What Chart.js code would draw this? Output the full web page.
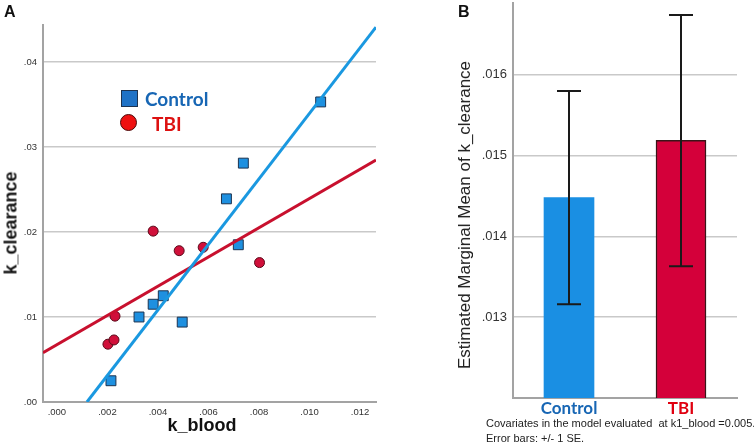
<!DOCTYPE html>
<html>
<head>
<meta charset="utf-8">
<script src="https://cdn.jsdelivr.net/npm/chart.js@4.4.1/dist/chart.umd.min.js"></script>
<style>
  body { margin: 0; background: #fff; font-family: "Liberation Sans", Arial, sans-serif; }
  #wrap { position: relative; width: 754px; height: 444px; overflow: hidden; }
  #wrap canvas { position: absolute; top: 0; }
  .t { position: absolute; white-space: nowrap; color: #111; }
  .c { transform: translate(-50%, -50%); }
  .rot { transform: translate(-50%, -50%) rotate(-90deg); }
  .panel { font-weight: bold; font-size: 16px; }
  .axt { font-weight: bold; font-size: 18px; }
  .leg { font-family: Lato, sans-serif; font-weight: bold; font-size: 19px; transform: translateY(-50%); }
  .foot { font-size: 11px; color: #222; }
</style>
</head>
<body>
<div id="wrap">
  <canvas id="chartA" width="390" height="444" style="left:0"></canvas>
  <canvas id="chartB" width="364" height="444" style="left:390px"></canvas>

  <div class="t panel" style="left:4px;top:3px">A</div>
  <div class="t panel" style="left:458px;top:3px">B</div>

  <div class="t axt rot" style="left:11px;top:223px">k_clearance</div>
  <div class="t axt c" style="left:202px;top:425px">k_blood</div>

  <div style="position:absolute;left:121px;top:90px;width:15px;height:15px;background:#1f72c6;border:1px solid #1d3350"></div>
  <div class="t leg" style="left:145px;top:98px;color:#1766b4">Control</div>
  <div style="position:absolute;left:120px;top:114px;width:17px;height:17px;border-radius:50%;background:#ee1111;border:1px solid #4a0a0a;box-sizing:border-box"></div>
  <div class="t leg" style="left:152px;top:123px;color:#dd1111">TBI</div>

  <div class="t rot" style="left:465px;top:215px;font-size:17px;color:#222">Estimated Marginal Mean of k_clearance</div>
  <div class="t foot" style="left:486px;top:417px">Covariates in the model evaluated&nbsp; at k1_blood =0.005.</div>
  <div class="t foot" style="left:486px;top:432px">Error bars: +/- 1 SE.</div>
</div>

<script>
// ---- panel A: scatter of k_clearance vs k_blood ----
const controlX = [0.00214, 0.00325, 0.00381, 0.00421, 0.00496, 0.00671, 0.00718, 0.00738, 0.01044];
const controlY = [0.0025, 0.0100, 0.0115, 0.0125, 0.0094, 0.0239, 0.0185, 0.0281, 0.0353];
const tbiX = [0.00202, 0.00226, 0.0023, 0.00381, 0.00484, 0.00579, 0.00802];
const tbiY = [0.0068, 0.0073, 0.0101, 0.0201, 0.0178, 0.0182, 0.0164];

// fitted regression lines, end points
const controlFitX = [0.00119, 0.01263];
const controlFitY = [0, 0.0441];
const tbiFitX = [-0.00055, 0.01263];
const tbiFitY = [0.0058, 0.02847];

const xTicksA = [0, 0.002, 0.004, 0.006, 0.008, 0.010, 0.012];
const yTicksA = [0, 0.01, 0.02, 0.03, 0.04];

// ---- panel B: estimated marginal means ----
const groups = ['Control', 'TBI'];
const means = [0.01448, 0.01519];
const seLow = [0.01316, 0.01363];
const seHigh = [0.01580, 0.01674];
const yTicksB = [0.013, 0.014, 0.015, 0.016];

const groupColors = ['#1a8fe3', '#d4003a'];
const labelColors = ['#1766b4', '#e00010'];

const pts = (xs, ys) => xs.map((x, i) => ({ x: x, y: ys[i] }));
const dot = v => v.toFixed(3).replace(/^0/, '');

const gridGray = '#c9c9c9';
const axisGray = '#a3a3a3';

// no extra room for the tick labels at the ends of the axes
const noPad = s => { s.paddingTop = 0; s.paddingBottom = 0; s.paddingLeft = 0; s.paddingRight = 0; };

new Chart(document.getElementById('chartA'), {
  type: 'scatter',
  data: {
    datasets: [
      {
        data: pts(controlFitX, controlFitY),
        showLine: true,
        borderColor: '#1a98e0',
        borderWidth: 3,
        pointRadius: 0
      },
      {
        data: pts(tbiFitX, tbiFitY),
        showLine: true,
        borderColor: '#c8102e',
        borderWidth: 3,
        pointRadius: 0
      },
      {
        data: pts(controlX, controlY),
        pointStyle: 'rect',
        pointRadius: 7,
        backgroundColor: '#1e90e0',
        borderColor: '#1c3350',
        borderWidth: 1
      },
      {
        data: pts(tbiX, tbiY),
        pointStyle: 'circle',
        pointRadius: 5,
        backgroundColor: '#d0103a',
        borderColor: '#5a0a1a',
        borderWidth: 1
      }
    ]
  },
  options: {
    responsive: false,
    animation: false,
    layout: { padding: { top: 25, right: 14, left: 0, bottom: 0 } },
    plugins: { legend: { display: false }, tooltip: { enabled: false } },
    scales: {
      x: {
        type: 'linear',
        min: -0.00055,
        max: 0.01263,
        afterBuildTicks: s => { s.ticks = xTicksA.map(v => ({ value: v })); },
        afterFit: s => { s.height = 42; noPad(s); },
        grid: { display: false, drawTicks: false },
        border: { display: true, color: axisGray, width: 2 },
        ticks: {
          padding: 5,
          color: '#333',
          font: { family: 'Liberation Sans', size: 9.5 },
          callback: v => dot(v)
        }
      },
      y: {
        min: 0,
        max: 0.04435,
        afterBuildTicks: s => { s.ticks = yTicksA.map(v => ({ value: v })); },
        afterFit: s => { s.width = 43; noPad(s); },
        grid: { color: gridGray, lineWidth: 1.5, drawTicks: false },
        border: { display: true, color: axisGray, width: 2 },
        ticks: {
          padding: 6,
          color: '#333',
          font: { family: 'Liberation Sans', size: 9.5 },
          callback: v => v.toFixed(2).replace(/^0/, '')
        }
      }
    }
  }
});

// error bars for panel B, drawn through the y scale
const errorBars = {
  id: 'errorBars',
  afterDatasetsDraw(chart) {
    const ctx = chart.ctx;
    const y = chart.scales.y;
    const meta = chart.getDatasetMeta(0);
    ctx.save();
    ctx.strokeStyle = '#1a1a1a';
    ctx.lineWidth = 2;
    meta.data.forEach((bar, i) => {
      const top = y.getPixelForValue(seHigh[i]);
      const bot = y.getPixelForValue(seLow[i]);
      const cap = 12;
      ctx.beginPath();
      ctx.moveTo(bar.x, top); ctx.lineTo(bar.x, bot);
      ctx.moveTo(bar.x - cap, top); ctx.lineTo(bar.x + cap, top);
      ctx.moveTo(bar.x - cap, bot); ctx.lineTo(bar.x + cap, bot);
      ctx.stroke();
    });
    ctx.restore();
  }
};

new Chart(document.getElementById('chartB'), {
  type: 'bar',
  data: {
    labels: groups,
    datasets: [{
      data: means,
      backgroundColor: groupColors,
      borderColor: ['rgba(0,0,0,0)', '#3a1418'],
      borderWidth: [0, 1.5],
      barThickness: 50
    }]
  },
  plugins: [errorBars],
  options: {
    responsive: false,
    animation: false,
    layout: { padding: { top: 3, right: 17, left: 0, bottom: 0 } },
    plugins: { legend: { display: false }, tooltip: { enabled: false } },
    scales: {
      x: {
        afterFit: s => { s.height = 46; noPad(s); },
        grid: { display: false, drawTicks: false },
        border: { display: true, color: axisGray, width: 2 },
        ticks: {
          padding: 0,
          color: c => labelColors[c.index],
          font: { family: 'Lato', weight: 'bold', size: 17 }
        }
      },
      y: {
        min: 0.012,
        max: 0.01689,
        afterBuildTicks: s => { s.ticks = yTicksB.map(v => ({ value: v })); },
        afterFit: s => { s.width = 123; noPad(s); },
        grid: { color: gridGray, lineWidth: 1.5, drawTicks: false },
        border: { display: true, color: axisGray, width: 2 },
        ticks: {
          padding: 6,
          color: '#333',
          font: { family: 'Liberation Sans', size: 13 },
          callback: v => dot(v)
        }
      }
    }
  }
});
</script>
</body>
</html>
